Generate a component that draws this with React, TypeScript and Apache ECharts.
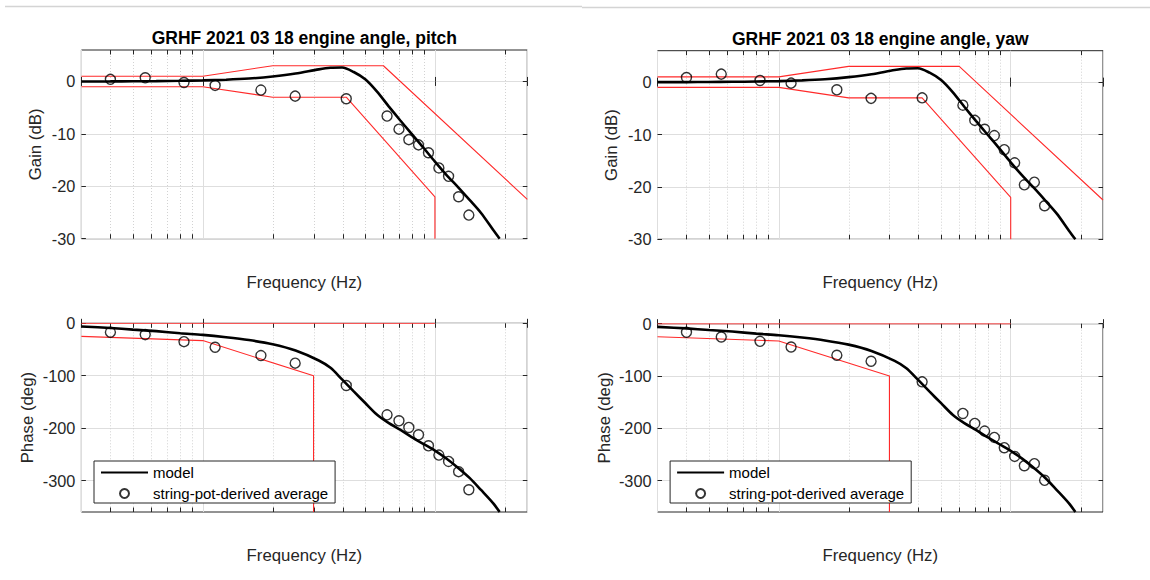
import React, { useEffect, useRef } from "react";
import * as echarts from "echarts";

const FONT = "'Liberation Sans', Arial, Helvetica, sans-serif";
const AXIS_COLOR = "#262626";
const GRID_COLOR = "#dedede";
const MINOR_COLOR = "#d2d2d2";
const RED = "#ff2a2a";

// Measured points (string-pot-derived average)
const measFreq = [0.4, 0.565, 0.83, 1.13, 1.78, 2.5, 4.15, 6.22, 7.0, 7.72, 8.5, 9.38, 10.4, 11.45, 12.65, 14.0];
const pitchGain = [0.4, 0.7, -0.2, -0.75, -1.65, -2.8, -3.3, -6.6, -9.1, -11.1, -12.1, -13.6, -16.5, -18.1, -22.0, -25.5];
const pitchPhase = [-17, -21.6, -35, -45.7, -61.6, -76, -118.7, -174.6, -186, -198.7, -212.7, -233.7, -251.4, -263.5, -283, -317.5];
const yawGain = [0.89, 1.53, 0.32, -0.19, -1.46, -3.1, -3.0, -4.4, -7.3, -9.0, -10.2, -12.9, -15.4, -19.6, -19.1, -23.6];
const yawPhase = [-16.5, -25.4, -33.7, -44.5, -60.4, -71.8, -111.2, -171.6, -190.7, -205.3, -217.4, -237.1, -253.7, -271.5, -267.6, -299.4];

// Model curve
const modelFreq = [0.3, 0.4, 0.5, 0.63, 0.8, 1.0, 1.26, 1.58, 2.0, 2.51, 3.16, 3.55, 3.98, 4.47, 5.01, 5.62, 6.31, 7.08, 7.94, 8.91, 10, 11.2, 12.6, 14.1, 15.8, 17.8, 19.0];
const modelGainDb = [0, 0.01, 0.03, 0.06, 0.12, 0.2, 0.33, 0.55, 0.95, 1.5, 2.3, 2.6, 2.65, 1.8, 0.4, -1.9, -4.7, -7.4, -10.0, -12.6, -15.3, -17.8, -20.2, -22.6, -25.1, -28.3, -30];
const modelPhaseDeg = [-6, -9, -12, -15, -19, -22, -26.5, -32, -40, -52, -71, -85, -107, -130, -152, -174, -190, -203, -217, -230, -243, -258, -276, -295, -318, -343, -360];

// Requirement bounds (red)
const gainUpperFreq = [0.3, 1, 2, 6, 25];
const gainUpperDb = [1, 1, 3, 3, -22.5];
const gainLowerFreq = [0.3, 1, 2, 4.15, 10, 10];
const gainLowerDb = [-1, -1, -3, -3, -22, -30];
const phaseUpperFreq = [0.3, 10];
const phaseUpperDeg = [0, 0];
const phaseLowerFreq = [0.3, 1, 3, 3];
const phaseLowerDeg = [-25, -33, -100, -360];

// Axes
const freqMin = 0.3;
const freqMax = 25;
const minorFreqs = [0.4, 0.5, 0.6, 0.7, 0.8, 0.9, 2, 3, 4, 5, 6, 7, 8, 9, 20];
const gainTicks = [-30, -20, -10, 0];
const phaseTicks = [-300, -200, -100, 0];
const gainRange = [-30, 6];
const phaseRange = [-360, 0];

const titles = ["GRHF 2021 03 18 engine angle, pitch", "GRHF 2021 03 18 engine angle, yaw"];

const pair = (xs: number[], ys: number[]) => xs.map((x, i) => [x, ys[i]]);

type Panel = {
  grid: { left: number; top: number; width: number; height: number };
  kind: "gain" | "phase";
  meas: number[];
  yName: string;
  yNameGap: number;
};

const panels: Panel[] = [
  { grid: { left: 81.4, top: 50, width: 445.9, height: 188.7 }, kind: "gain", meas: pitchGain, yName: "Gain (dB)", yNameGap: 37 },
  { grid: { left: 81.4, top: 323.3, width: 445.9, height: 188.7 }, kind: "phase", meas: pitchPhase, yName: "Phase (deg)", yNameGap: 45 },
  { grid: { left: 657.5, top: 50.7, width: 445.5, height: 188.6 }, kind: "gain", meas: yawGain, yName: "Gain (dB)", yNameGap: 38 },
  { grid: { left: 657.5, top: 323.7, width: 445.5, height: 188.3 }, kind: "phase", meas: yawPhase, yName: "Phase (deg)", yNameGap: 45 },
];

function buildOption(): any {
  const grid: any[] = [];
  const xAxis: any[] = [];
  const yAxis: any[] = [];
  const series: any[] = [];
  const legend: any[] = [];

  panels.forEach((p) => {
    grid.push({ ...p.grid, show: true, borderColor: AXIS_COLOR, borderWidth: 1, backgroundColor: "transparent" });
  });

  // bottom x axes
  panels.forEach((p, i) => {
    xAxis.push({
      type: "log",
      logBase: 10,
      gridIndex: i,
      min: freqMin,
      max: freqMax,
      position: "bottom",
      name: "Frequency (Hz)",
      nameLocation: "middle",
      nameGap: 35,
      nameTextStyle: { fontFamily: FONT, fontSize: 16.8, color: AXIS_COLOR },
      axisLine: { show: false },
      axisTick: { show: true, inside: true, length: 4.5, lineStyle: { color: AXIS_COLOR } },
      axisLabel: { show: false },
      splitLine: { show: true, lineStyle: { color: GRID_COLOR, width: 1 } },
    });
  });
  // top x axes (ticks only)
  panels.forEach((p, i) => {
    xAxis.push({
      type: "log",
      logBase: 10,
      gridIndex: i,
      min: freqMin,
      max: freqMax,
      position: "top",
      axisLine: { show: false },
      axisTick: { show: true, inside: true, length: 4.5, lineStyle: { color: AXIS_COLOR } },
      axisLabel: { show: false },
      splitLine: { show: false },
    });
  });
  // left y axes
  panels.forEach((p, i) => {
    const range = p.kind === "gain" ? gainRange : phaseRange;
    const ticks = p.kind === "gain" ? gainTicks : phaseTicks;
    yAxis.push({
      type: "value",
      gridIndex: i,
      min: range[0],
      max: range[1],
      position: "left",
      name: p.yName,
      nameLocation: "middle",
      nameGap: p.yNameGap,
      nameTextStyle: { fontFamily: FONT, fontSize: 16.8, color: AXIS_COLOR },
      axisLine: { show: false },
      axisTick: { show: true, inside: true, length: 4.5, lineStyle: { color: AXIS_COLOR }, customValues: ticks },
      axisLabel: { show: true, margin: 6, fontFamily: FONT, fontSize: 16.3, color: AXIS_COLOR, customValues: ticks },
      splitLine: { show: true, lineStyle: { color: GRID_COLOR, width: 1 } },
    });
  });
  // right y axes (ticks only)
  panels.forEach((p, i) => {
    const range = p.kind === "gain" ? gainRange : phaseRange;
    const ticks = p.kind === "gain" ? gainTicks : phaseTicks;
    yAxis.push({
      type: "value",
      gridIndex: i,
      min: range[0],
      max: range[1],
      position: "right",
      axisLine: { show: false },
      axisTick: { show: true, inside: true, length: 4.5, lineStyle: { color: AXIS_COLOR }, customValues: ticks },
      axisLabel: { show: false },
      splitLine: { show: false },
    });
  });

  panels.forEach((p, i) => {
    const range = p.kind === "gain" ? gainRange : phaseRange;
    const yMin = range[0];
    // minor grid + minor ticks
    series.push({
      type: "custom",
      xAxisIndex: i,
      yAxisIndex: i,
      silent: true,
      z: 1,
      data: minorFreqs.map((f) => [f, yMin]),
      renderItem: (params: any, api: any) => {
        const cs = params.coordSys;
        const x = Math.round(api.coord([api.value(0), yMin])[0]) + 0.5;
        const top = cs.y;
        const bot = cs.y + cs.height;
        return {
          type: "group",
          children: [
            { type: "line", shape: { x1: x, y1: top, x2: x, y2: bot }, style: { stroke: MINOR_COLOR, lineWidth: 1, lineDash: [1, 2] } },
            { type: "line", shape: { x1: x, y1: bot, x2: x, y2: bot - 4.5 }, style: { stroke: AXIS_COLOR, lineWidth: 1 } },
            { type: "line", shape: { x1: x, y1: top, x2: x, y2: top + 4.5 }, style: { stroke: AXIS_COLOR, lineWidth: 1 } },
          ],
        };
      },
    });
    const upper = p.kind === "gain" ? pair(gainUpperFreq, gainUpperDb) : pair(phaseUpperFreq, phaseUpperDeg);
    const lower = p.kind === "gain" ? pair(gainLowerFreq, gainLowerDb) : pair(phaseLowerFreq, phaseLowerDeg);
    [upper, lower].forEach((d) => {
      series.push({
        type: "line",
        name: "bound",
        xAxisIndex: i,
        yAxisIndex: i,
        data: d,
        symbol: "none",
        silent: true,
        z: 3,
        lineStyle: { color: RED, width: 1.1 },
      });
    });
    const model = p.kind === "gain" ? pair(modelFreq, modelGainDb) : pair(modelFreq, modelPhaseDeg);
    series.push({
      type: "line",
      name: "model",
      xAxisIndex: i,
      yAxisIndex: i,
      data: model,
      symbol: "none",
      smooth: 0.3,
      z: 4,
      color: "#000",
      lineStyle: { color: "#000", width: 2.6 },
    });
    series.push({
      type: "scatter",
      name: "string-pot-derived average",
      xAxisIndex: i,
      yAxisIndex: i,
      data: pair(measFreq, p.meas),
      symbol: "circle",
      symbolSize: 10,
      z: 5,
      itemStyle: { color: "rgba(0,0,0,0)", borderColor: "#000", borderWidth: 1.4 },
    });
    if (p.kind === "phase") {
      legend.push({
        left: p.grid.left + 12.6,
        top: 461,
        orient: "vertical",
        selectedMode: false,
        backgroundColor: "#fff",
        borderColor: AXIS_COLOR,
        borderWidth: 1,
        borderRadius: 0,
        padding: [4, 7, 2, 6],
        itemGap: 6,
        itemWidth: 47,
        itemHeight: 9,
        textStyle: { fontFamily: FONT, fontSize: 15, color: "#000" },
        data: [
          { name: "model", itemStyle: { opacity: 0 } },
          { name: "string-pot-derived average" },
        ],
      });
    }
  });

  return {
    animation: false,
    backgroundColor: "#fff",
    title: [
      {
        text: titles[0],
        left: panels[0].grid.left + panels[0].grid.width / 2,
        top: 28.5,
        padding: 0,
        textAlign: "center",
        textStyle: { fontFamily: FONT, fontSize: 17.5, fontWeight: "bold", color: "#000" },
      },
      {
        text: titles[1],
        left: panels[2].grid.left + panels[2].grid.width / 2,
        top: 30,
        padding: 0,
        textAlign: "center",
        textStyle: { fontFamily: FONT, fontSize: 17.5, fontWeight: "bold", color: "#000" },
      },
    ],
    graphic: [
      { type: "line", shape: { x1: 5, y1: 6.5, x2: 582, y2: 6.5 }, style: { stroke: "#d4d4d4", lineWidth: 1.5 } },
      { type: "line", shape: { x1: 582, y1: 7.5, x2: 1150, y2: 7.5 }, style: { stroke: "#d4d4d4", lineWidth: 1.5 } },
    ],
    grid,
    xAxis,
    yAxis,
    legend,
    series,
  };
}

export default function App() {
  const ref = useRef<HTMLDivElement>(null);
  useEffect(() => {
    if (!ref.current) return;
    const chart = echarts.init(ref.current, null, { renderer: "svg" });
    chart.setOption(buildOption());
    return () => chart.dispose();
  }, []);
  return (
    <div
      ref={ref}
      style={{ position: "fixed", left: 0, top: 0, width: 1150, height: 580, background: "#fff" }}
    />
  );
}
